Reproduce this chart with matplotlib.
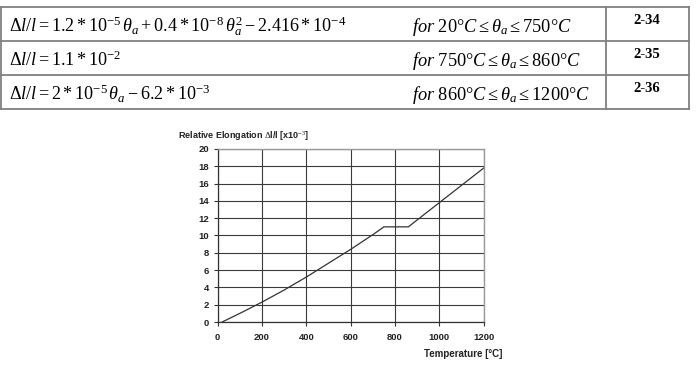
import matplotlib
matplotlib.use("Agg")
import matplotlib.pyplot as plt
from matplotlib.lines import Line2D

# values
temps = [20, 100, 200, 300, 400, 500, 600, 700, 750, 860, 900, 1000, 1100, 1200]
elong = [0.0, 1.0, 2.3, 3.7, 5.2, 6.8, 8.4, 10.1, 11.0, 11.0, 11.8, 13.8, 15.8, 17.8]

xticks = [0, 200, 400, 600, 800, 1000, 1200]
yticks = list(range(0, 21, 2))

equations = [
    r'$\Delta l/l = 1.2*10^{-5}\,\theta_a + 0.4*10^{-8}\,\theta_a^2 - 2.416*10^{-4}$',
    r'$\Delta l/l = 1.1*10^{-2}$',
    r'$\Delta l/l = 2*10^{-5}\,\theta_a - 6.2*10^{-3}$',
]
ranges = [
    r'$\mathit{for}\ 20°C \leq \theta_a \leq 750°C$',
    r'$\mathit{for}\ 750°C \leq \theta_a \leq 860°C$',
    r'$\mathit{for}\ 860°C \leq \theta_a \leq 1200°C$',
]
eq_numbers = ['2-34', '2-35', '2-36']

plt.rcParams['mathtext.fontset'] = 'custom'
plt.rcParams['mathtext.rm'] = 'Liberation Serif'
plt.rcParams['mathtext.it'] = 'Liberation Serif:italic'
plt.rcParams['mathtext.bf'] = 'Liberation Serif:bold'

W, H = 696, 377
fig = plt.figure(figsize=(W / 100, H / 100), dpi=100)

def px(x, y):
    return x / W, 1 - y / H

# table of equations
rows_y = [7, 41, 75, 109]
for yy in rows_y:
    x0, y0 = px(0, yy)
    x1, _ = px(689, yy)
    fig.add_artist(Line2D([x0, x1], [y0, y0], color='#808080', lw=1.3))
for xx in [1, 606, 689]:
    xa, ya = px(xx, 7)
    _, yb = px(xx, 109)
    fig.add_artist(Line2D([xa, xa], [ya, yb], color='#808080', lw=1.3))

for i in range(3):
    base = 32 + 34 * i
    fig.text(*px(9, base), equations[i], fontsize=13.1, va='baseline', ha='left')
    fig.text(*px(412, base), ranges[i], fontsize=13.2, va='baseline', ha='left')
    fig.text(*px(647, 20 + 34 * i), eq_numbers[i], fontsize=10.5, va='center',
             ha='center', family='Liberation Serif', weight='bold')

# chart
l, b = px(217.7, 322)
r, t = px(483.7, 149)
ax = fig.add_axes([l, b, r - l, t - b])
ax.plot(temps, elong, color='#333333', lw=0.9)
ax.set_xlim(0, 1200)
ax.set_ylim(0, 20)
ax.set_xticks(xticks)
ax.set_yticks(yticks)
ax.grid(True, color='#3a3a3a', lw=0.8)
ax.set_axisbelow(True)
for s in ['top', 'right']:
    ax.spines[s].set_color('#999999')
    ax.spines[s].set_linewidth(1.0)
for s in ['left', 'bottom']:
    ax.spines[s].set_color('#333333')
    ax.spines[s].set_linewidth(0.9)
ax.tick_params(axis='x', length=3, width=0.8, color='#333333', labelsize=6.8, pad=5)
ax.tick_params(axis='y', length=3, width=0.8, color='#333333', labelsize=6.8, pad=3)
for lab in ax.get_xticklabels() + ax.get_yticklabels():
    lab.set_family('Liberation Sans')
    lab.set_weight('bold')
    lab.set_color('#222222')

fig.text(*px(178, 136), r'Relative Elongation $\Delta$l/l [x10$^{-3}$]', fontsize=6.5,
         family='Liberation Sans', weight='bold', va='center', ha='left', color='#222222')
fig.text(*px(463, 354), 'Temperature [°C]', fontsize=7,
         family='Liberation Sans', weight='bold', va='center', ha='center', color='#222222')

fig.savefig('out.png', dpi=100)
